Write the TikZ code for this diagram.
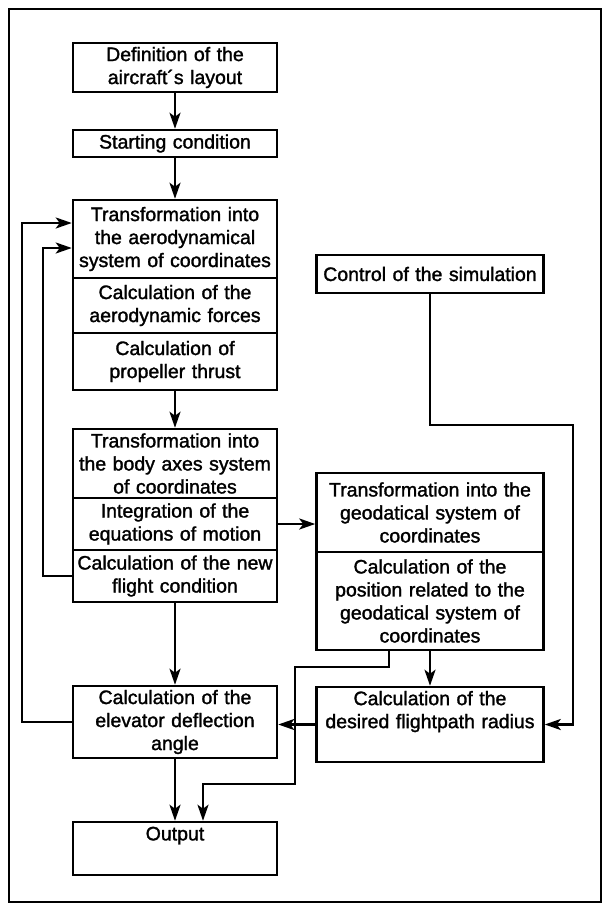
\documentclass[tikz,border=0pt]{standalone}
\usepackage{fontspec}
\setmainfont{Liberation Sans}[RawFeature={embolden=1.5}]
\usetikzlibrary{arrows.meta,calc}
\begin{document}
\begin{tikzpicture}[x=1pt,y=-1pt,
  box/.style={draw, line width=2.5pt, inner sep=0pt, align=center,
              font=\fontsize{19.5}{23}\selectfont},
  lbox/.style={box, text width=204pt},
  rbox/.style={box, text width=227pt},
  conn/.style={line width=2.5pt, line join=miter},
  arr/.style={conn, -{Stealth[length=16pt,width=11pt,inset=4pt]}}]
\fill[white] (0,0) rectangle (603,905);
\useasboundingbox (0,0) rectangle (603,905);
\draw[line width=2.2pt] (9,9) rectangle (601,902);

% left column
\node[lbox, minimum height=49pt] (def) at (175,67.5) {Definition of the\\aircraft´s layout};
\node[lbox, minimum height=27pt] (start) at (175,143.5) {Starting condition};
\node[lbox, minimum height=78pt] (aero1) at (175,239) {Transformation into\\the aerodynamical\\system of coordinates};
\node[lbox, minimum height=55pt] (aero2) at (175,305.5) {Calculation of the\\aerodynamic forces};
\node[lbox, minimum height=57pt] (aero3) at (175,361.5) {Calculation of\\propeller thrust};
\node[lbox, minimum height=69pt] (body1) at (175,463.5) {Transformation into\\the body axes system\\of coordinates};
\node[lbox, minimum height=52pt] (body2) at (175,524) {Integration of the\\equations of motion};
\node[lbox, minimum height=52pt] (body3) at (175,576) {Calculation of the new\\flight condition};
\node[lbox, minimum height=72pt] (elev) at (175,722) {Calculation of the\\elevator deflection\\angle};
\node[lbox, minimum height=53pt] (out) at (175,848.5) {Output\\\strut};

% right column
\node[rbox, minimum height=38pt] (ctrl) at (430,274) {Control of the simulation};
\node[rbox, minimum height=79pt] (geo1) at (430,512.5) {Transformation into the\\geodatical system of\\coordinates};
\node[rbox, minimum height=98pt] (geo2) at (430,601) {Calculation of the\\position related to the\\geodatical system of\\coordinates};
\node[rbox, minimum height=75pt] (des) at (430,724.5) {Calculation of the\\desired flightpath radius\\\strut};

% connectors
\draw[arr] (def) -- (start);
\draw[arr] (start) -- (aero1);
\draw[arr] (aero3) -- (body1);
\draw[arr] (body2.east) -- (body2.east -| geo1.west);

\coordinate (c1) at (573,425);
\draw[arr] (ctrl.south) |- (c1) |- (des.east);

\draw[arr] (geo2) -- (des);

\coordinate (k1) at (389,667);
\coordinate (k2) at (295,667);
\coordinate (k3) at (295,784);
\coordinate (k4) at (203,784);
\draw[arr] (k1 |- geo2.south) -- (k1) -- (k2) -- (k3) -- (k4) -- (k4 |- out.north);

\draw[arr] (des.west) -- (des.west -| elev.east);
\draw[arr] (body3) -- (elev);
\draw[arr] (elev) -- (out);

\coordinate (L1) at (22,223);
\draw[arr] (elev.west) -| (L1) -- (L1 -| aero1.west);
\coordinate (L2) at (43,248);
\draw[arr] (body3.west) -| (L2) -- (L2 -| aero1.west);
\end{tikzpicture}
\end{document}
